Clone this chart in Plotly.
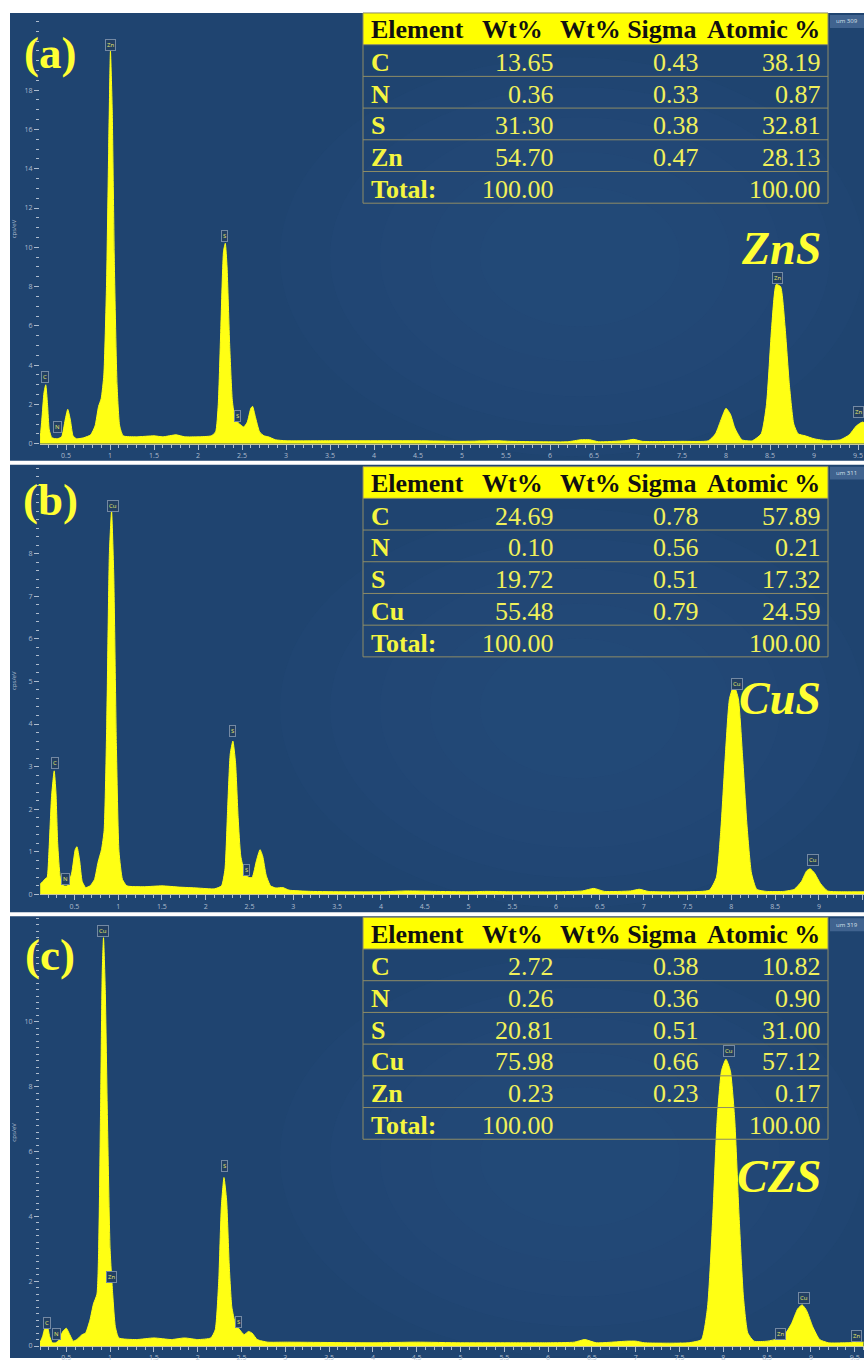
import plotly.graph_objects as go

W, H = 864, 1362

# ---------------- data ----------------
# (a) ZnS spectrum: energy (keV) / intensity (cps/eV)
energy_a = [0.205, 0.225, 0.25, 0.27, 0.29, 0.31, 0.34, 0.40, 0.45, 0.49, 0.52, 0.55, 0.58, 0.62,
            0.70, 0.78, 0.83, 0.87, 0.90, 0.93, 0.96, 0.985, 1.005, 1.025, 1.05, 1.08, 1.11, 1.15,
            1.30, 1.50, 1.60, 1.75, 1.85, 2.00, 2.15, 2.20, 2.23, 2.26, 2.29, 2.31, 2.33, 2.36,
            2.39, 2.42, 2.46, 2.52, 2.56, 2.60, 2.62, 2.65, 2.70, 2.75, 2.80, 2.88, 3.00, 3.50,
            4.00, 4.50, 5.00, 5.40, 5.55, 6.20, 6.35, 6.45, 6.55, 6.85, 6.95, 7.05, 7.50, 7.80,
            7.88, 7.95, 8.00, 8.05, 8.10, 8.18, 8.30, 8.40, 8.46, 8.52, 8.57, 8.62, 8.67, 8.72,
            8.77, 8.82, 8.90, 9.00, 9.15, 9.30, 9.40, 9.48, 9.55, 9.60]
counts_a = [0.2, 1.2, 2.6, 3.0, 2.0, 0.7, 0.3, 0.25, 0.35, 1.2, 1.75, 1.2, 0.4, 0.25,
            0.3, 0.45, 0.9, 1.9, 2.3, 3.5, 8.0, 15.0, 20.0, 17.0, 9.0, 3.0, 0.9, 0.4,
            0.35, 0.4, 0.35, 0.45, 0.35, 0.35, 0.4, 0.6, 2.0, 6.0, 9.8, 10.2, 9.0, 5.0,
            2.2, 1.3, 1.05, 0.85, 1.1, 1.8, 1.9, 1.4, 0.6, 0.4, 0.35, 0.2, 0.15, 0.15,
            0.15, 0.15, 0.12, 0.15, 0.12, 0.1, 0.2, 0.2, 0.1, 0.15, 0.22, 0.12, 0.12, 0.15,
            0.5, 1.3, 1.8, 1.5, 0.8, 0.2, 0.15, 0.5, 2.0, 6.0, 8.1, 8.0, 6.0, 3.0,
            1.0, 0.5, 0.4, 0.25, 0.15, 0.2, 0.45, 0.9, 1.1, 1.0]

# (b) CuS spectrum
energy_b = [0.11, 0.14, 0.17, 0.19, 0.21, 0.24, 0.27, 0.29, 0.31, 0.34, 0.38, 0.42, 0.47, 0.51,
            0.53, 0.56, 0.59, 0.63, 0.68, 0.73, 0.77, 0.81, 0.84, 0.87, 0.90, 0.925, 0.95, 0.98,
            1.01, 1.05, 1.10, 1.30, 1.50, 1.70, 1.90, 2.10, 2.18, 2.22, 2.25, 2.28, 2.31, 2.34,
            2.37, 2.40, 2.44, 2.49, 2.53, 2.58, 2.62, 2.65, 2.69, 2.74, 2.80, 2.88, 2.95, 3.20,
            3.60, 4.00, 4.30, 4.60, 5.00, 5.20, 5.50, 6.00, 6.30, 6.43, 6.55, 6.85, 6.95, 7.05,
            7.50, 7.75, 7.83, 7.88, 7.93, 7.98, 8.03, 8.08, 8.13, 8.18, 8.23, 8.29, 8.40, 8.60,
            8.72, 8.80, 8.86, 8.90, 8.95, 9.02, 9.10, 9.30, 9.52]
counts_b = [0.24, 0.3, 0.37, 0.4, 1.0, 2.3, 2.9, 2.4, 1.2, 0.4, 0.2, 0.2, 0.5, 1.05,
            1.12, 0.8, 0.3, 0.16, 0.2, 0.35, 0.75, 1.05, 1.5, 4.0, 8.0, 9.0, 7.5, 3.5,
            1.0, 0.35, 0.2, 0.18, 0.2, 0.17, 0.15, 0.13, 0.2, 0.6, 2.0, 3.3, 3.6, 3.1,
            1.8, 0.9, 0.55, 0.4, 0.4, 0.8, 1.05, 0.9, 0.45, 0.2, 0.15, 0.16, 0.1, 0.07,
            0.06, 0.06, 0.08, 0.07, 0.06, 0.07, 0.06, 0.06, 0.08, 0.14, 0.07, 0.08, 0.12, 0.07,
            0.06, 0.1, 0.4, 1.5, 3.2, 4.6, 4.9, 4.6, 3.2, 1.6, 0.5, 0.12, 0.07, 0.07,
            0.12, 0.3, 0.55, 0.6, 0.5, 0.25, 0.08, 0.06, 0.06]

# (c) CZS spectrum
energy_c = [0.20, 0.23, 0.26, 0.28, 0.31, 0.34, 0.38, 0.42, 0.46, 0.50, 0.54, 0.58, 0.62, 0.68,
            0.72, 0.77, 0.81, 0.85, 0.87, 0.89, 0.91, 0.925, 0.945, 0.97, 1.00, 1.03, 1.06, 1.10,
            1.30, 1.50, 1.70, 1.85, 2.00, 2.15, 2.20, 2.24, 2.27, 2.30, 2.33, 2.36, 2.39, 2.43,
            2.48, 2.53, 2.58, 2.62, 2.68, 2.80, 3.00, 4.00, 4.50, 5.00, 5.50, 6.00, 6.30, 6.42,
            6.55, 6.90, 7.00, 7.10, 7.60, 7.75, 7.82, 7.88, 7.93, 7.98, 8.03, 8.08, 8.13, 8.18,
            8.23, 8.28, 8.35, 8.50, 8.62, 8.70, 8.78, 8.85, 8.90, 8.95, 9.02, 9.10, 9.20, 9.40,
            9.60]
counts_c = [0.1, 0.3, 0.6, 0.65, 0.3, 0.1, 0.1, 0.2, 0.45, 0.55, 0.35, 0.15, 0.2, 0.35,
            0.4, 0.8, 1.3, 1.6, 3.0, 7.0, 11.5, 12.6, 11.0, 7.0, 3.0, 1.6, 0.6, 0.25,
            0.2, 0.25, 0.2, 0.25, 0.2, 0.25, 0.5, 2.0, 4.3, 5.2, 4.5, 2.5, 1.2, 0.7,
            0.5, 0.35, 0.45, 0.4, 0.2, 0.12, 0.12, 0.1, 0.12, 0.1, 0.1, 0.1, 0.12, 0.2,
            0.1, 0.15, 0.15, 0.1, 0.1, 0.2, 1.2, 4.0, 7.0, 8.5, 8.85, 8.5, 7.0, 4.0,
            1.5, 0.4, 0.15, 0.15, 0.22, 0.35, 0.7, 1.15, 1.27, 1.1, 0.6, 0.2, 0.1, 0.1,
            0.12]

# labelled y ticks (the top ones are hidden behind the panel letters)
yticks_a = [0, 2, 4, 6, 8, 10, 12, 14, 16, 18]
yticks_b = [0, 1, 2, 3, 4, 5, 6, 7, 8]
yticks_c = [0, 2, 4, 6, 8, 10]

# peak labels (text, energy keV, cps/eV)
peaks_a = [("Zn", 1.00, 20.3), ("S", 2.30, 10.56), ("C", 0.26, 3.40), ("N", 0.40, 0.86),
           ("S", 2.45, 1.42), ("Zn", 8.59, 8.43), ("Zn", 9.50, 1.62)]
peaks_b = [("Cu", 0.94, 9.12), ("S", 2.31, 3.84), ("C", 0.28, 3.09), ("N", 0.40, 0.36),
           ("S", 2.47, 0.58), ("Cu", 8.06, 4.94), ("Cu", 8.93, 0.80)]
peaks_c = [("Cu", 0.92, 12.8), ("Zn", 1.02, 2.13), ("S", 2.31, 5.54), ("C", 0.28, 0.72),
           ("N", 0.39, 0.36), ("S", 2.47, 0.74), ("Cu", 8.06, 9.1), ("Zn", 8.65, 0.36),
           ("Cu", 8.92, 1.49), ("Zn", 9.52, 0.31)]

# tables
table_header = ["Element", "Wt%", "Wt% Sigma", "Atomic %"]
elements_a = ["C", "N", "S", "Zn", "Total:"]
wt_a = ["13.65", "0.36", "31.30", "54.70", "100.00"]
sigma_a = ["0.43", "0.33", "0.38", "0.47", ""]
atomic_a = ["38.19", "0.87", "32.81", "28.13", "100.00"]

elements_b = ["C", "N", "S", "Cu", "Total:"]
wt_b = ["24.69", "0.10", "19.72", "55.48", "100.00"]
sigma_b = ["0.78", "0.56", "0.51", "0.79", ""]
atomic_b = ["57.89", "0.21", "17.32", "24.59", "100.00"]

elements_c = ["C", "N", "S", "Cu", "Zn", "Total:"]
wt_c = ["2.72", "0.26", "20.81", "75.98", "0.23", "100.00"]
sigma_c = ["0.38", "0.36", "0.51", "0.66", "0.23", ""]
atomic_c = ["10.82", "0.90", "31.00", "57.12", "0.17", "100.00"]

panel_labels = ["(a)", "(b)", "(c)"]
sample_names = ["ZnS", "CuS", "CZS"]
spectrum_tags = ["um 309", "um 311", "um 319"]

# ---------------- layout helpers ----------------
def px(x):
    return x / W

def py(y):
    return 1 - y / H

YELLOW = "#ffff14"
PANEL_BG = "#1f4470"
GLOW = "#2b5686"
TICK_C = "#aebcce"
LINE_C = "#8e8c66"
VAL_C = "#f0f05a"
SERIF = "Liberation Serif"

panels = [
    dict(top=13, bottom=462, base=445, xr=[0.2045, 9.568], yr=[0, 21.93], yt=yticks_a, mdt=0.5,
         energy=energy_a, counts=counts_a, peaks=peaks_a, ttop=13,
         rows=(elements_a, wt_a, sigma_a, atomic_a), lab_y=53, name_y=249),
    dict(top=466, bottom=915, base=897, xr=[0.108, 9.515], yr=[0, 10.09], yt=yticks_b, mdt=0.2,
         energy=energy_b, counts=counts_b, peaks=peaks_b, ttop=468,
         rows=(elements_b, wt_b, sigma_b, atomic_b), lab_y=501, name_y=701),
    dict(top=919, bottom=1362, base=1350, xr=[0.2, 9.606], yr=[0, 13.26], yt=yticks_c, mdt=0.2,
         energy=energy_c, counts=counts_c, peaks=peaks_c, ttop=920,
         rows=(elements_c, wt_c, sigma_c, atomic_c), lab_y=958, name_y=1180),
]

fig = go.Figure()
shapes = []
annotations = []


def ptext(x, y, text, size, color, family="Open Sans", xanchor="center", **kw):
    annotations.append(dict(x=px(x), y=py(y), xref="paper", yref="paper", text=text,
                            showarrow=False, xanchor=xanchor, yanchor="middle",
                            font=dict(size=size, color=color, family=family), **kw))


for i, p in enumerate(panels):
    n = "" if i == 0 else str(i + 1)
    xa, ya = "x" + n, "y" + n
    # panel background with a soft lighter centre
    shapes.append(dict(type="rect", xref="paper", yref="paper", x0=px(10), x1=1,
                       y0=py(p["bottom"]), y1=py(p["top"]), fillcolor=PANEL_BG,
                       line=dict(width=0), layer="below"))
    cy = (p["top"] + p["bottom"]) / 2 + 20
    for rx, ry in [(300, 200), (250, 170), (200, 140), (150, 105), (100, 70)]:
        shapes.append(dict(type="circle", xref="paper", yref="paper",
                           x0=px(580 - rx), x1=px(min(580 + rx, 864)),
                           y0=py(min(cy + ry, p["bottom"])), y1=py(max(cy - ry, p["top"])),
                           fillcolor=GLOW, opacity=0.12,
                           line=dict(width=0), layer="below"))

    fig.add_trace(go.Scatter(x=p["energy"], y=p["counts"], mode="lines", fill="tozeroy",
                             line=dict(color=YELLOW, width=1, shape="spline", smoothing=0.5),
                             fillcolor=YELLOW, hoverinfo="skip", showlegend=False,
                             xaxis=xa, yaxis=ya))

    xkey = "xaxis" + n
    ykey = "yaxis" + n
    fig.update_layout(**{
        xkey: dict(domain=[px(40), 1], range=p["xr"], anchor=ya, dtick=0.5, tick0=0,
                   ticks="outside", ticklen=5, tickcolor=TICK_C, tickwidth=1,
                   minor=dict(dtick=0.1, tick0=0, ticks="outside", ticklen=3, tickcolor=TICK_C),
                   showgrid=False, zeroline=False, showline=True, linecolor="#c9c79a",
                   linewidth=1, tickfont=dict(size=7, color=TICK_C, family="Open Sans"),
                   fixedrange=True),
        ykey: dict(domain=[py(p["base"]), py(p["top"])], range=p["yr"], anchor=xa,
                   tickmode="array", tickvals=p["yt"], ticks="outside", ticklen=5,
                   tickcolor=TICK_C,
                   minor=dict(dtick=p["mdt"], tick0=0, ticks="outside", ticklen=3, tickcolor=TICK_C),
                   showgrid=False, zeroline=False, showline=False,
                   tickfont=dict(size=7, color=TICK_C, family="Open Sans"), fixedrange=True),
    })

    # peak labels
    for txt, ex, ey in p["peaks"]:
        annotations.append(dict(x=ex, y=ey, xref=xa, yref=ya, text=txt, showarrow=False,
                                xanchor="center", yanchor="middle",
                                font=dict(size=6, color="#e6e66a", family="Open Sans"),
                                bgcolor="#223f62", bordercolor="#7489a3", borderwidth=1,
                                borderpad=1))

    # y title
    ptext(14, p["top"] + 217, "cps/eV", 6, TICK_C, textangle=-90)

    # panel label and sample name
    ptext(50, p["lab_y"], "<b>" + panel_labels[i] + "</b>", 45, "#ffff33", SERIF)
    ptext(823, p["name_y"], "<b><i>" + sample_names[i] + "</i></b>", 46, "#ffff33", SERIF,
          xanchor="right")

    # spectrum tag box
    shapes.append(dict(type="rect", xref="paper", yref="paper", x0=px(830), x1=1,
                       y0=py(p["top"] + 15), y1=py(p["top"] + 2), fillcolor="#40638f",
                       line=dict(width=0)))
    ptext(834, p["top"] + 8.5, spectrum_tags[i], 6, "#d8e0ea", xanchor="left")

    # table
    elems, wts, sigs, atos = p["rows"]
    rh = 31.8
    t0 = p["ttop"]
    L, R = 363, 828
    nrows = len(elems)
    shapes.append(dict(type="rect", xref="paper", yref="paper", x0=px(L), x1=px(R),
                       y0=py(t0 + rh), y1=py(t0), fillcolor="#ffff00", line=dict(width=0)))
    shapes.append(dict(type="rect", xref="paper", yref="paper", x0=px(L), x1=px(R),
                       y0=py(t0 + rh * (nrows + 1)), y1=py(t0), fillcolor="rgba(0,0,0,0)",
                       line=dict(color=LINE_C, width=1)))
    for r in range(1, nrows + 1):
        shapes.append(dict(type="line", xref="paper", yref="paper", x0=px(L), x1=px(R),
                           y0=py(t0 + rh * r), y1=py(t0 + rh * r),
                           line=dict(color=LINE_C, width=1)))
    hy = t0 + rh / 2 + 1
    hdr_pos = [(369, "left"), (545, "right"), (699, "right"), (822, "right")]
    for (hx, anc), txt in zip(hdr_pos, table_header):
        ptext(hx, hy, "<b>" + txt + "</b>", 26, "#111111", SERIF, xanchor=anc)
    for r in range(nrows):
        ry = t0 + rh * (r + 1) + rh / 2 + 2
        ptext(369, ry, "<b>" + elems[r] + "</b>", 26, "#f5f540", SERIF, xanchor="left")
        for cx, vals in ((556, wts), (701, sigs), (823, atos)):
            if vals[r]:
                ptext(cx, ry, vals[r], 26, VAL_C, SERIF, xanchor="right")

fig.update_layout(width=W, height=H, margin=dict(l=0, r=0, t=0, b=0),
                  paper_bgcolor="white", plot_bgcolor="rgba(0,0,0,0)",
                  shapes=shapes, annotations=annotations, showlegend=False)

fig.write_html("out.html")
